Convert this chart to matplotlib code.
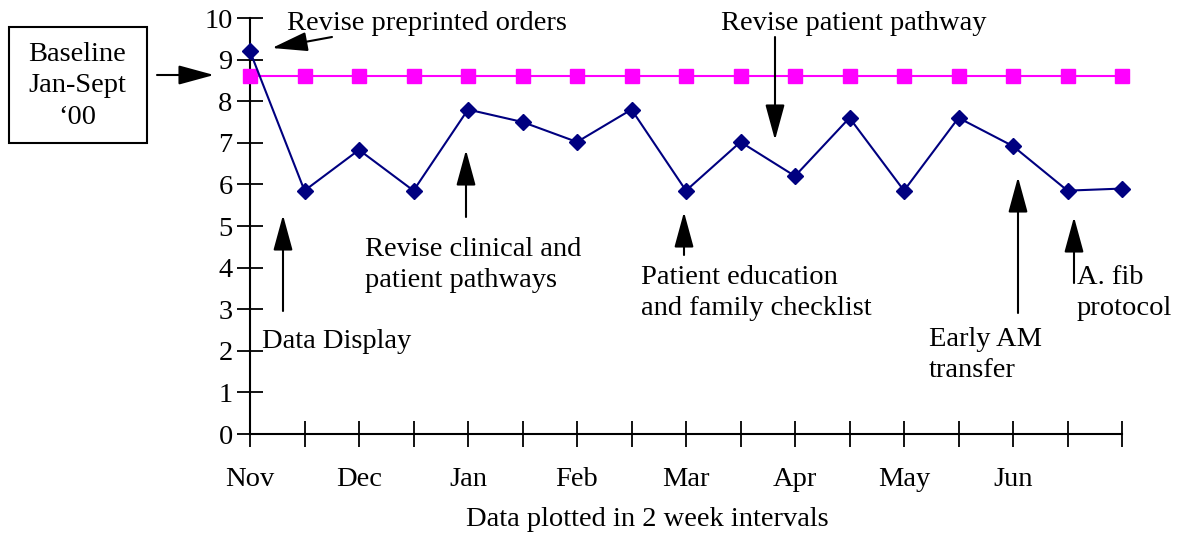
import matplotlib
matplotlib.use("Agg")
import matplotlib.pyplot as plt
from matplotlib.patches import Rectangle

# data (two-week intervals, Nov .. Jun)
periods = list(range(17))
month_labels = ["Nov", "", "Dec", "", "Jan", "", "Feb", "", "Mar", "", "Apr", "", "May", "", "Jun", "", ""]
actual = [9.2, 5.85, 6.83, 5.85, 7.8, 7.5, 7.02, 7.8, 5.85, 7.02, 6.2, 7.6, 5.85, 7.6, 6.92, 5.85, 5.9]
baseline = [8.6] * 17

W, H = 1191, 535
FS = 20.5
plt.rcParams['font.family'] = ['Liberation Serif', 'DejaVu Serif']
plt.rcParams['font.size'] = FS

fig = plt.figure(figsize=(W / 100, H / 100), dpi=100)
ax = fig.add_axes([250 / W, 1 - 434 / H, (1122 - 250) / W, (434 - 18) / H])

ax.plot(periods, baseline, color='#FF00FF', lw=1.5, marker='s', ms=10, clip_on=False, zorder=3)
ax.plot(periods, actual, color='#000080', lw=1.5, marker='D', ms=8.5, clip_on=False, zorder=4)

ax.set_xlim(0, 16)
ax.set_ylim(0, 10)
ax.set_yticks(range(11))
ax.set_xticks(periods)
ax.set_xticklabels(month_labels)
for s in ['top', 'right']:
    ax.spines[s].set_visible(False)
for s in ['left', 'bottom']:
    ax.spines[s].set_linewidth(1.5)
ax.tick_params(axis='both', direction='inout', length=19, width=1.3, labelsize=FS)
ax.tick_params(axis='x', pad=14)
ax.tick_params(axis='y', pad=3)

fig.text(647 / W, 1 - 520 / H, "Data plotted in 2 week intervals", ha='center', va='center', fontsize=FS)


def px(x, y):
    return (x, H - y)


arrow = dict(arrowstyle='-|>,head_length=1.1,head_width=0.3', mutation_scale=20,
             color='black', lw=1.5, shrinkA=0, shrinkB=0)


def note(tail, tip):
    ax.annotate("", xy=px(*tip), xycoords='figure pixels', xytext=px(*tail),
                textcoords='figure pixels', arrowprops=arrow, annotation_clip=False)


def label(x, y, s, ha='left'):
    fig.text(x / W, 1 - y / H, s, ha=ha, va='center', fontsize=FS, linespacing=1.35)


# annotations
label(287, 24, "Revise preprinted orders")
note((332, 37), (272, 48))

label(721, 24, "Revise patient pathway")
note((775, 37), (775, 140))

label(262, 342, "Data Display")
note((283, 311), (283, 215))

label(365, 265, "Revise clinical and\npatient pathways")
note((466, 217), (466, 150))

label(641, 293, "Patient education\nand family checklist")
note((684, 255), (684, 212))

label(929, 355, "Early AM\ntransfer")
note((1018, 313), (1018, 177))

label(1077, 293, "A. fib\nprotocol")
note((1074, 283), (1074, 217))

# baseline box
fig.patches.append(Rectangle((9 / W, 1 - 143 / H), 138 / W, 116 / H, transform=fig.transFigure,
                             fill=False, edgecolor='black', lw=1.5))
label(77, 86, "Baseline\nJan-Sept\n\u201800", ha='center')
note((157, 75), (214, 75))

fig.savefig("out.png", dpi=100)
